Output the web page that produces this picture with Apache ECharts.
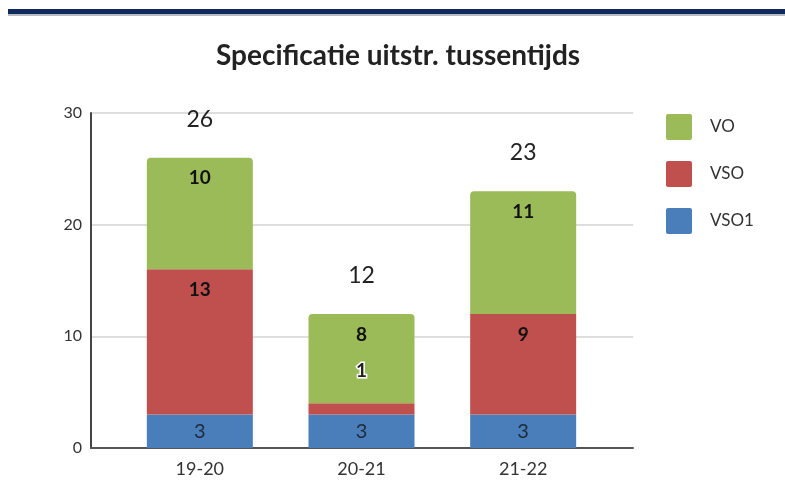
<!DOCTYPE html>
<html>
<head>
<meta charset="utf-8">
<script src="https://cdn.jsdelivr.net/npm/echarts@6/dist/echarts.min.js"></script>
<style>
html,body{margin:0;padding:0;background:#fff;}
#chart{width:785px;height:495px;}
</style>
</head>
<body>
<div id="chart"></div>
<script>
var chart = echarts.init(document.getElementById("chart"));

var categories = ['19-20', '20-21', '21-22'];
var vso1 = [3, 3, 3];
var vso = [13, 1, 9];
var vo = [10, 8, 11];
var yTicks = [0, 10, 20, 30];

// totals boven de staven
var totals = categories.map(function (c, i) {
    return vso1[i] + vso[i] + vo[i];
});
var totalBase = categories.map(function () { return 0; });

var font = 'Lato, "Open Sans", sans-serif';
var barW = 106;

var vsoData = vso.map(function (v) {
    if (v < 2) {
        // te klein segment: label erboven met witte rand
        return {
            value: v,
            label: {
                position: 'top', distance: 23, color: '#222',
                textBorderColor: '#fff', textBorderWidth: 3
            }
        };
    }
    return v;
});

var option = {
    animation: false,
    backgroundColor: '#fff',
    title: {
        text: 'Specificatie uitstr. tussentijds',
        left: 211,
        top: 37,
        textStyle: {fontFamily: font, fontSize: 28, fontWeight: 'bold', color: '#222'}
    },
    graphic: [
        {type: 'rect', shape: {x: 8, y: 9, width: 777, height: 5}, style: {fill: '#102a5e'}},
        {type: 'rect', shape: {x: 8, y: 14, width: 777, height: 2}, style: {fill: '#b8bcc4'}}
    ],
    legend: {
        orient: 'vertical',
        left: 661,
        top: 109,
        itemWidth: 26,
        itemHeight: 26,
        itemGap: 21,
        icon: 'path://M2,0 L24,0 Q26,0 26,2 L26,24 Q26,26 24,26 L2,26 Q0,26 0,24 L0,2 Q0,0 2,0 Z',
        data: ['VO', 'VSO', 'VSO1'],
        textStyle: {fontFamily: font, fontSize: 17, color: '#333', padding: [0, 0, 0, 13]}
    },
    grid: [
        {left: 119, right: 181, top: 113, bottom: 47},
        {left: 91, right: 152, top: 113, bottom: 47}
    ],
    xAxis: [
        {
            type: 'category',
            gridIndex: 0,
            data: categories,
            axisTick: {show: false},
            axisLine: {show: false},
            axisLabel: {fontFamily: font, fontSize: 18, color: '#333', margin: 12}
        },
        {
            type: 'value',
            gridIndex: 1,
            min: 0, max: 1,
            axisLine: {show: true, lineStyle: {color: '#555', width: 2}},
            axisTick: {show: false},
            axisLabel: {show: false},
            splitLine: {show: false}
        }
    ],
    yAxis: [
        {
            type: 'value',
            gridIndex: 0,
            min: yTicks[0],
            max: yTicks[yTicks.length - 1],
            interval: 10,
            show: false
        },
        {
            type: 'value',
            gridIndex: 1,
            min: yTicks[0],
            max: yTicks[yTicks.length - 1],
            interval: 10,
            axisLine: {show: true, lineStyle: {color: '#444', width: 2}},
            axisTick: {show: false},
            splitLine: {lineStyle: {color: '#dedede', width: 2}},
            axisLabel: {fontFamily: font, fontSize: 16, color: '#333', margin: 9}
        }
    ],
    series: [
        {
            name: 'VSO1', type: 'bar', stack: 'tot', barWidth: barW, z: 3,
            itemStyle: {color: '#4a7ebb'},
            label: {show: true, position: 'inside', fontFamily: font, fontSize: 20, color: '#1d2a3a'},
            data: vso1
        },
        {
            name: 'VSO', type: 'bar', stack: 'tot', barWidth: barW, z: 3,
            itemStyle: {color: '#c0504d'},
            label: {show: true, position: 'insideTop', distance: 11, fontFamily: font, fontSize: 19, fontWeight: 'bold', color: '#111'},
            data: vsoData
        },
        {
            name: 'VO', type: 'bar', stack: 'tot', barWidth: barW, z: 3,
            itemStyle: {color: '#9bbb59', borderRadius: [4, 4, 0, 0]},
            label: {show: true, position: 'insideTop', distance: 11, fontFamily: font, fontSize: 19, fontWeight: 'bold', color: '#111'},
            data: vo
        },
        {
            name: 'Totaal', type: 'bar', stack: 'tot', barWidth: barW, z: 3,
            itemStyle: {color: 'rgba(0,0,0,0)'},
            label: {
                show: true, position: 'top', distance: 27, fontFamily: font, fontSize: 23, color: '#222',
                formatter: function (p) { return totals[p.dataIndex]; }
            },
            data: totalBase
        }
    ]
};

chart.setOption(option, true);
</script>
</body>
</html>
